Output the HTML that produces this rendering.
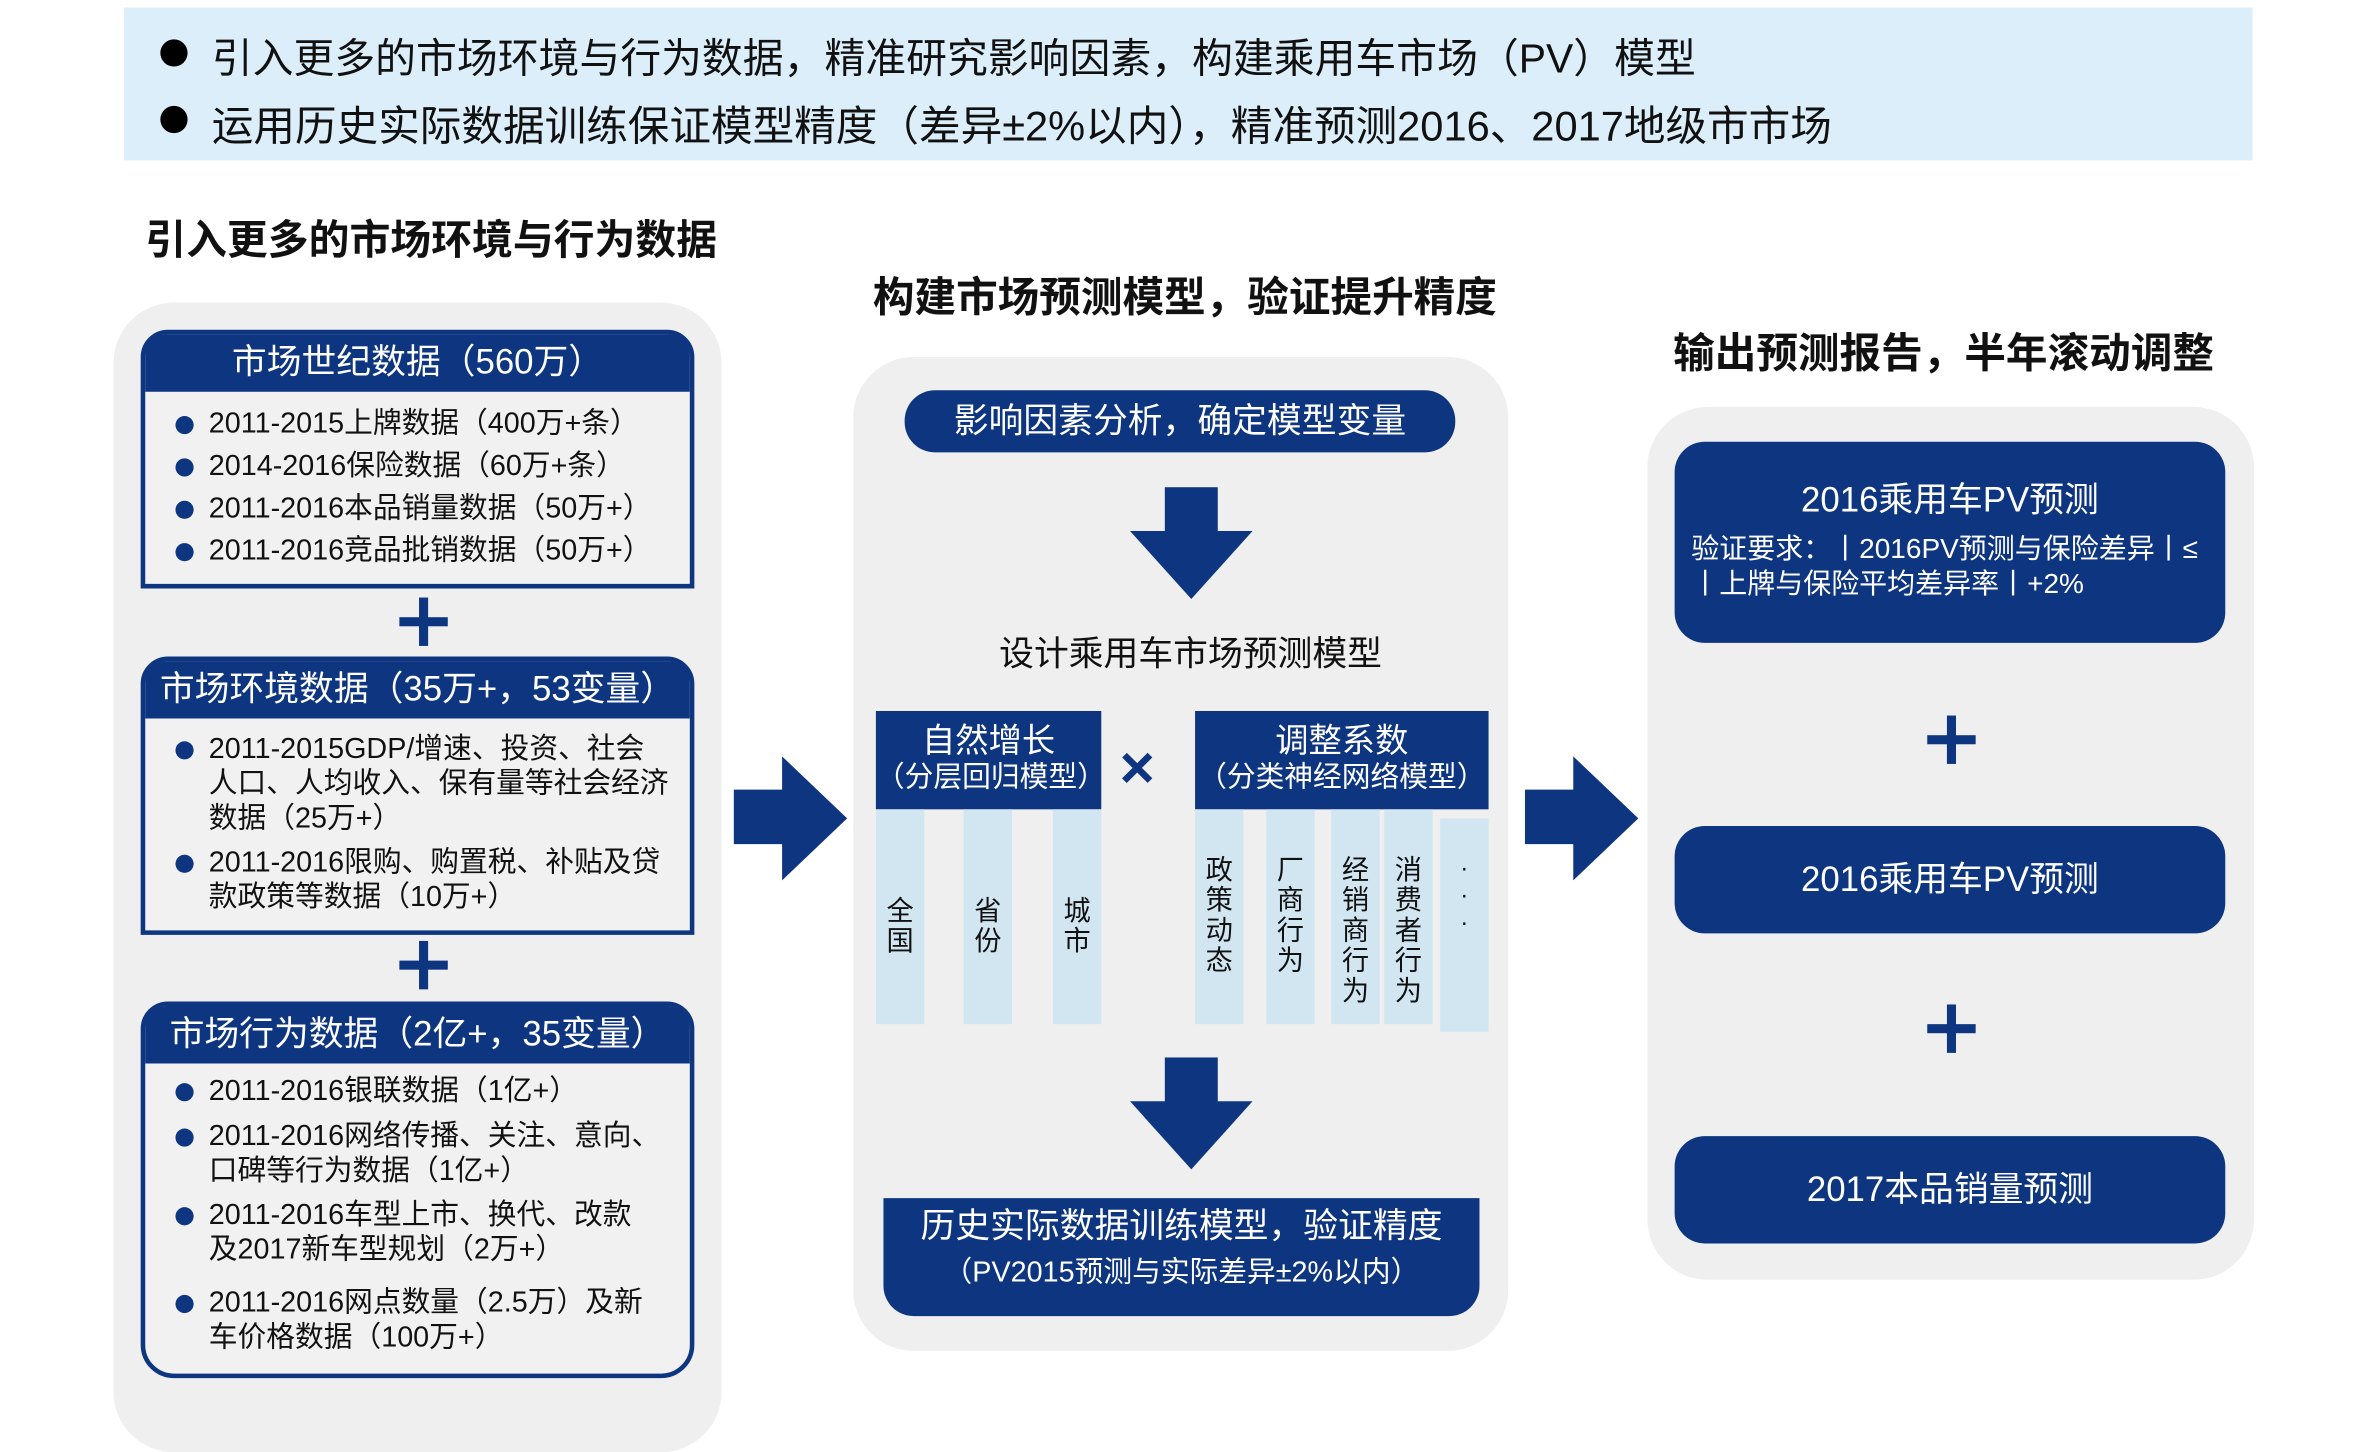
<!DOCTYPE html>
<html><head><meta charset="utf-8"><style>
html,body{margin:0;padding:0;background:#fff;}
body{width:2372px;height:1408px;overflow:hidden;position:relative;}
#c{position:absolute;left:0;top:0;width:1568px;height:931px;transform:scale(1.51276);transform-origin:0 0;font-family:"Liberation Sans","Noto Sans CJK SC",sans-serif;}
.a{position:absolute;}
.t{position:absolute;white-space:nowrap;}
.nv{background:#0e3680;}
.gp{background:#efefef;position:absolute;}
.w{color:#fff;}
.lb{position:absolute;background:#d1e6f1;}
.vt{position:absolute;display:flex;flex-direction:column;align-items:center;font-size:18px;line-height:20px;color:#111;}
.box{position:absolute;border:3px solid #0e3680;background:#f1f1f1;box-sizing:border-box;}
.hd{position:absolute;left:0;right:0;top:0;background:#0e3680;color:#fff;text-align:center;font-size:23px;}
.li{position:absolute;left:42px;font-size:19px;line-height:23px;color:#111;white-space:nowrap;}
.li:before{content:"";position:absolute;left:-22px;top:6px;width:12px;height:12px;border-radius:50%;background:#0e3680;}
.plus{position:absolute;width:32px;height:32px;}
.plus:before{content:"";position:absolute;left:13px;top:0;width:6px;height:32px;background:#0e3680;}
.plus:after{content:"";position:absolute;left:0;top:13px;width:32px;height:6px;background:#0e3680;}
</style></head><body><div id="c">

<div class="a" style="left:82px;top:5px;width:1407px;height:101px;background:#dbeef9;"></div>
<div class="a" style="left:106px;top:26px;width:18px;height:18px;border-radius:50%;background:#000;"></div>
<div class="a" style="left:106px;top:70px;width:18px;height:18px;border-radius:50%;background:#000;"></div>
<div class="t" style="left:140px;top:17px;font-size:27px;color:#111;">引入更多的市场环境与行为数据，精准研究影响因素，构建乘用车市场（PV）模型</div>
<div class="t" style="left:140px;top:61px;font-size:27.5px;color:#111;">运用历史实际数据训练保证模型精度（差异±2%以内），精准预测2016、2017地级市市场</div>

<div class="t" style="left:96px;top:137px;font-size:27px;font-weight:bold;color:#111;">引入更多的市场环境与行为数据</div>
<div class="t" style="left:577px;top:174px;font-size:27.5px;font-weight:bold;color:#111;">构建市场预测模型，验证提升精度</div>
<div class="t" style="left:1106px;top:211px;font-size:27.5px;font-weight:bold;color:#111;">输出预测报告，半年滚动调整</div>

<!-- left panel -->
<div class="gp" style="left:75px;top:200px;width:402px;height:760px;border-radius:40px;"></div>
<div class="box" style="left:93px;top:218px;width:366px;height:171px;border-radius:18px 18px 0 0;">
 <div class="hd" style="height:38px;line-height:36px;border-radius:14px 14px 0 0;">市场世纪数据（560万）</div>
 <div class="li" style="top:48px;">2011-2015上牌数据（400万+条）</div>
 <div class="li" style="top:76px;">2014-2016保险数据（60万+条）</div>
 <div class="li" style="top:104px;">2011-2016本品销量数据（50万+）</div>
 <div class="li" style="top:132px;">2011-2016竞品批销数据（50万+）</div>
</div>
<div class="plus" style="left:264px;top:395px;"></div>
<div class="box" style="left:93px;top:434px;width:366px;height:184px;border-radius:18px 18px 0 0;">
 <div class="hd" style="height:38px;line-height:36px;border-radius:14px 14px 0 0;">市场环境数据（35万+，53变量）</div>
 <div class="li" style="top:47px;">2011-2015GDP/增速、投资、社会<br>人口、人均收入、保有量等社会经济<br>数据（25万+）</div>
 <div class="li" style="top:122px;">2011-2016限购、购置税、补贴及贷<br>款政策等数据（10万+）</div>
</div>
<div class="plus" style="left:264px;top:622px;"></div>
<div class="box" style="left:93px;top:662px;width:366px;height:249px;border-radius:18px 18px 22px 22px;">
 <div class="hd" style="height:38px;line-height:36px;border-radius:14px 14px 0 0;">市场行为数据（2亿+，35变量）</div>
 <div class="li" style="top:45px;">2011-2016银联数据（1亿+）</div>
 <div class="li" style="top:75px;">2011-2016网络传播、关注、意向、<br>口碑等行为数据（1亿+）</div>
 <div class="li" style="top:127px;">2011-2016车型上市、换代、改款<br>及2017新车型规划（2万+）</div>
 <div class="li" style="top:185px;">2011-2016网点数量（2.5万）及新<br>车价格数据（100万+）</div>
</div>

<!-- arrows right -->
<svg class="a" style="left:485px;top:500px;" width="76" height="83"><polygon points="0,22 32,22 32,0 75,41 32,82 32,58 0,58" fill="#0e3680"/></svg>
<svg class="a" style="left:1008px;top:500px;" width="76" height="83"><polygon points="0,22 32,22 32,0 75,41 32,82 32,58 0,58" fill="#0e3680"/></svg>

<!-- middle panel -->
<div class="gp" style="left:564px;top:236px;width:433px;height:657px;border-radius:40px;"></div>
<div class="a nv w" style="left:598px;top:258px;width:364px;height:41px;border-radius:20px;text-align:center;line-height:41px;font-size:23px;">影响因素分析，确定模型变量</div>
<svg class="a" style="left:747px;top:322px;" width="82" height="75"><polygon points="23,0 58,0 58,29 81,29 40.5,74 0,29 23,29" fill="#0e3680"/></svg>
<div class="t" style="left:587px;width:400px;text-align:center;top:413px;font-size:23px;color:#111;">设计乘用车市场预测模型</div>

<div class="a nv w" style="left:579px;top:470px;width:149px;height:65px;text-align:center;">
 <div style="font-size:22px;line-height:24px;margin-top:8px;">自然增长</div>
 <div style="font-size:19px;line-height:22px;margin-top:2px;white-space:nowrap;">（分层回归模型）</div>
</div>
<div class="lb" style="left:579px;top:535px;width:32px;height:142px;"></div>
<div class="lb" style="left:637px;top:535px;width:32px;height:142px;"></div>
<div class="lb" style="left:696px;top:535px;width:32px;height:142px;"></div>
<div class="vt" style="left:579px;width:32px;top:592px;"><span>全</span><span>国</span></div>
<div class="vt" style="left:637px;width:32px;top:592px;"><span>省</span><span>份</span></div>
<div class="vt" style="left:696px;width:32px;top:592px;"><span>城</span><span>市</span></div>

<div class="t" style="left:740px;top:484px;font-size:40px;font-weight:bold;color:#0e3680;line-height:48px;">×</div>

<div class="a nv w" style="left:790px;top:470px;width:194px;height:65px;text-align:center;">
 <div style="font-size:22px;line-height:24px;margin-top:8px;">调整系数</div>
 <div style="font-size:19px;line-height:22px;margin-top:2px;white-space:nowrap;">（分类神经网络模型）</div>
</div>
<div class="lb" style="left:790px;top:535px;width:32px;height:142px;"></div>
<div class="lb" style="left:837px;top:535px;width:32px;height:142px;"></div>
<div class="lb" style="left:880px;top:535px;width:32px;height:142px;"></div>
<div class="lb" style="left:915px;top:535px;width:32px;height:142px;"></div>
<div class="lb" style="left:952px;top:541px;width:32px;height:141px;"></div>
<div class="vt" style="left:790px;width:32px;top:565px;"><span>政</span><span>策</span><span>动</span><span>态</span></div>
<div class="vt" style="left:837px;width:32px;top:565px;"><span>厂</span><span>商</span><span>行</span><span>为</span></div>
<div class="vt" style="left:880px;width:32px;top:565px;"><span>经</span><span>销</span><span>商</span><span>行</span><span>为</span></div>
<div class="vt" style="left:915px;width:32px;top:565px;"><span>消</span><span>费</span><span>者</span><span>行</span><span>为</span></div>
<div class="vt" style="left:952px;width:32px;top:566px;line-height:18px;font-size:16px;"><span>·</span><span>·</span><span>·</span></div>

<svg class="a" style="left:747px;top:699px;" width="82" height="75"><polygon points="23,0 58,0 58,29 81,29 40.5,74 0,29 23,29" fill="#0e3680"/></svg>
<div class="a nv w" style="left:584px;top:792px;width:394px;height:78px;border-radius:0 0 20px 20px;text-align:center;">
 <div style="font-size:23px;line-height:26px;margin-top:5px;">历史实际数据训练模型，验证精度</div>
 <div style="font-size:19px;line-height:24px;margin-top:7px;white-space:nowrap;">（PV2015预测与实际差异±2%以内）</div>
</div>

<!-- right panel -->
<div class="gp" style="left:1089px;top:269px;width:401px;height:577px;border-radius:40px;"></div>
<div class="a nv w" style="left:1107px;top:292px;width:364px;height:133px;border-radius:20px;">
 <div style="text-align:center;font-size:23px;line-height:26px;margin-top:25px;">2016乘用车PV预测</div>
 <div style="font-size:18.5px;line-height:23px;margin:8px 0 0 11px;white-space:nowrap;">验证要求：丨2016PV预测与保险差异丨≤<br>丨上牌与保险平均差异率丨+2%</div>
</div>
<div class="plus" style="left:1274px;top:473px;"></div>
<div class="a nv w" style="left:1107px;top:546px;width:364px;height:71px;border-radius:20px;text-align:center;line-height:71px;font-size:23px;">2016乘用车PV预测</div>
<div class="plus" style="left:1274px;top:664px;"></div>
<div class="a nv w" style="left:1107px;top:751px;width:364px;height:71px;border-radius:20px;text-align:center;line-height:71px;font-size:23px;">2017本品销量预测</div>

</div></body></html>
